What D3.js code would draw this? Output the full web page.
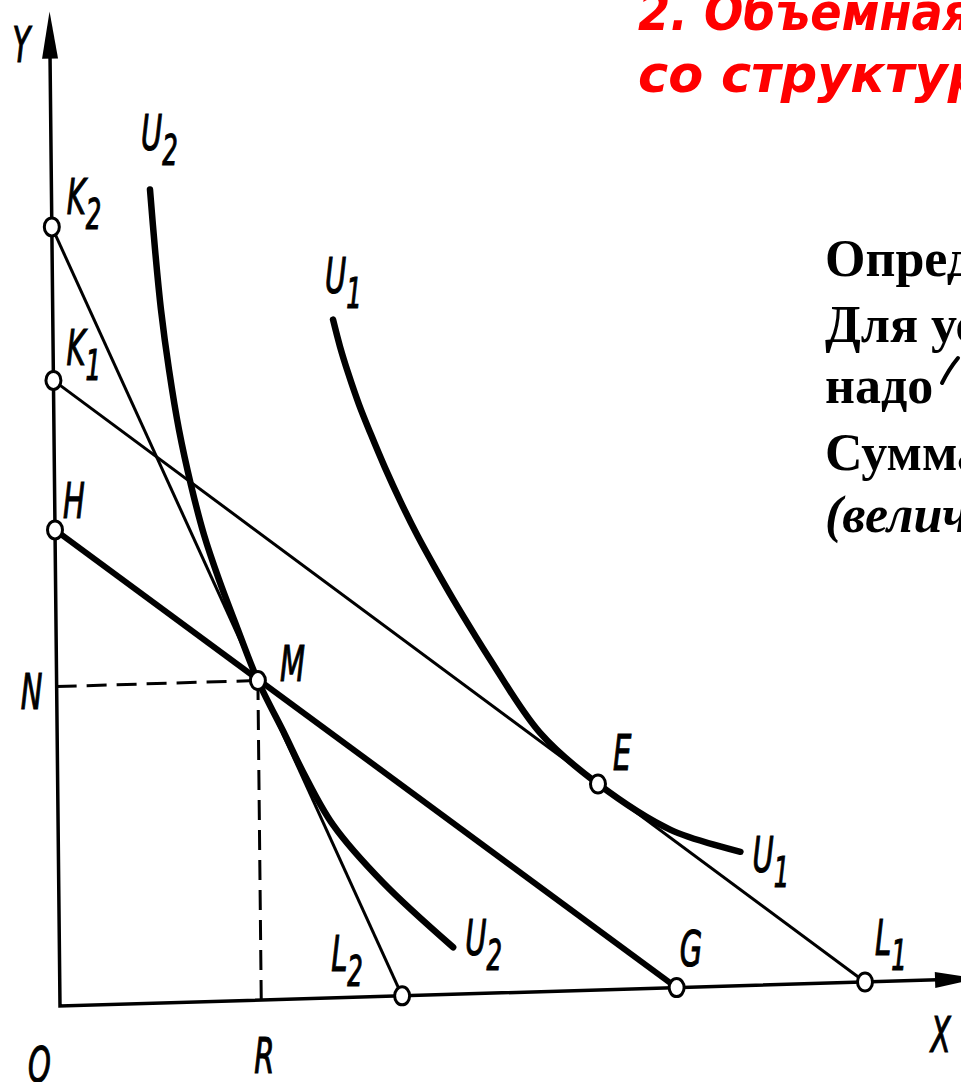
<!DOCTYPE html>
<html>
<head>
  <meta charset="utf-8">
  <meta name="viewport" content="width=device-width">
  <title>Эффект дохода и эффект замещения</title>
  <style>
    body { margin: 0; background: #fff; }
    svg { display: block; }
  </style>
</head>
<body>
<script src="https://cdnjs.cloudflare.com/ajax/libs/d3/7.8.5/d3.min.js"></script>

<div id="vis"></div>

<script>

// точки на осях (единицы осей)
var axisPoints = [
  {name: 'K2', x: 0,    y: 9.95},
  {name: 'K1', x: 0,    y: 7.99},
  {name: 'H',  x: 0,    y: 6.08},
  {name: 'L2', x: 4.25, y: 0},
  {name: 'G',  x: 7.66, y: 0},
  {name: 'L1', x: 10,   y: 0}
];

// точки касания
var tangentPoints = [
  {name: 'M', x: 2.5,  y: 4.08},
  {name: 'E', x: 6.71, y: 2.63}
];

// бюджетные линии
var budgetLines = [['K2', 'L2'], ['K1', 'L1'], ['H', 'G']];

// кривые безразличия
var curveU2 = [[1.224, 10.39], [1.279, 9.62], [1.345, 8.85], [1.437, 8.08], [1.553, 7.31],
  [1.695, 6.60], [1.850, 5.96], [2.031, 5.38], [2.236, 4.80], [2.5, 4.08], [2.830, 3.375],
  [3.049, 2.896], [3.415, 2.208], [4.03, 1.45], [4.89, 0.60]];
var curveU1 = [[3.48, 8.66], [3.564, 8.31], [3.660, 7.975], [3.793, 7.562], [3.938, 7.174],
  [4.107, 6.747], [4.302, 6.294], [4.508, 5.854], [4.716, 5.451], [4.947, 5.022],
  [5.191, 4.593], [5.375, 4.281], [5.998, 3.304], [6.71, 2.63], [7.60, 2.02], [8.47, 1.71]];

var axisMax = {x: 11.4, y: 12.7};

var titleLines = ['2. Объемная модель', 'со структурой'];
var textLines = ['Определим эффекты', 'Для устранения', 'надо', 'Суммарный', '(величина'];

var W = 961, H = 1082;
var svg = d3.select('div#vis').append('svg')
  .attr('width', W)
  .attr('height', H);

var x = d3.scaleLinear().domain([0, 10]).range([0, 805]);
var y = d3.scaleLinear().domain([0, 10]).range([0, 783]);

// оси на скане чуть наклонены
var ox = 60, oy = 1006, leanY = 0.0105, tiltX = 0.0298;
function px(p) { return ox + x(p[0]) - leanY * y(p[1]); }
function py(p) { return oy - tiltX * x(p[0]) - y(p[1]); }

var line = d3.line().x(px).y(py);
var smooth = d3.line().x(px).y(py).curve(d3.curveCatmullRom.alpha(0.5));

var pt = {};
axisPoints.concat(tangentPoints).forEach(function(d) { pt[d.name] = [d.x, d.y]; });

// оси
svg.append('path')
  .attr('d', line([[0, axisMax.y - 0.5], [0, 0], [axisMax.x - 0.4, 0]]))
  .attr('fill', 'none').attr('stroke', '#000').attr('stroke-width', 3.5);

function arrow(tip, back) {
  var a = [px(tip), py(tip)], b = [px(back), py(back)];
  var dx = a[0] - b[0], dy = a[1] - b[1], len = Math.sqrt(dx * dx + dy * dy);
  var nx = -dy / len * 8, ny = dx / len * 8;
  return 'M' + a + 'L' + [b[0] + nx, b[1] + ny] + 'L' + [b[0] - nx, b[1] - ny] + 'Z';
}
svg.append('path').attr('d', arrow([0, axisMax.y], [0, axisMax.y - 0.6]));
svg.append('path').attr('d', arrow([axisMax.x, 0], [axisMax.x - 0.53, 0]));

// пунктир от M
var M = pt.M;
svg.append('path')
  .attr('d', line([[0, M[1]], M]) + line([[M[0], 0], M]))
  .attr('fill', 'none').attr('stroke', '#000')
  .attr('stroke-width', 3).attr('stroke-dasharray', '20,10');

// бюджетные линии
svg.selectAll('path.budget').data(budgetLines).enter().append('path')
  .attr('class', 'budget')
  .attr('d', function(d) { return line([pt[d[0]], pt[d[1]]]); })
  .attr('fill', 'none').attr('stroke', '#000')
  .attr('stroke-width', function(d) { return d[0] === 'H' ? 6 : 3; });

// кривые безразличия
svg.selectAll('path.u').data([curveU2, curveU1]).enter().append('path')
  .attr('class', 'u')
  .attr('d', smooth)
  .attr('fill', 'none').attr('stroke', '#000')
  .attr('stroke-width', 6.5).attr('stroke-linecap', 'round');

// кружки
svg.selectAll('ellipse').data(axisPoints.concat(tangentPoints)).enter().append('ellipse')
  .attr('cx', function(d) { return px([d.x, d.y]); })
  .attr('cy', function(d) { return py([d.x, d.y]); })
  .attr('rx', 7.5).attr('ry', 9)
  .attr('fill', '#fff').attr('stroke', '#000').attr('stroke-width', 3);

// подписи
function label(name, lx, ly) {
  var g = svg.append('g').attr('transform', 'translate(' + lx + ',' + ly + ') scale(0.58,1)');
  var t = g.append('text')
    .attr('font-family', 'DejaVu Sans').attr('font-style', 'oblique')
    .attr('font-size', 50)
    .attr('stroke', '#000').attr('stroke-width', 1.2)
    .text(name.charAt(0));
  if (name.length > 1) t.append('tspan').attr('font-size', 42).attr('dy', 15).text(name.slice(1));
}

var offs = {K2: [15, -13], K1: [13, -15], H: [8, -12], L2: [-71, -25], G: [3, -22],
  L1: [10, -27], M: [22, 0], E: [15, -14]};
axisPoints.concat(tangentPoints).forEach(function(d) {
  var p = [d.x, d.y];
  label(d.name, px(p) + offs[d.name][0], py(p) + offs[d.name][1]);
});

var yTip = [0, axisMax.y], xTip = [axisMax.x, 0];
label('Y', px(yTip) - 37, py(yTip) + 50);
label('X', px(xTip) - 47, py(xTip) + 73);
label('O', ox - 32, oy + 76);
label('N', px([0, M[1]]) - 36, py([0, M[1]]) + 22);
label('R', px([M[0], 0]) - 7, py([M[0], 0]) + 73);

var u2a = curveU2[0], u2b = curveU2[curveU2.length - 1];
var u1a = curveU1[0], u1b = curveU1[curveU1.length - 1];
label('U2', px(u2a) - 9, py(u2a) - 40);
label('U1', px(u1a) - 8, py(u1a) - 27);
label('U1', px(u1b) + 12, py(u1b) + 20);
label('U2', px(u2b) + 12, py(u2b) + 8);

// заголовок
var titleScale = [0.89, 0.98];
titleLines.forEach(function(d, i) {
  svg.append('g')
    .attr('transform', 'translate(638,' + (30 + i * 62) + ') scale(' + titleScale[i] + ',1)')
    .append('text')
    .attr('fill', '#ff0000')
    .attr('font-family', 'DejaVu Sans').attr('font-weight', 'bold').attr('font-style', 'oblique')
    .attr('font-size', 52)
    .text(d);
});

// текст справа
var base = [276, 342, 403, 470, 532];
svg.selectAll('text.note').data(textLines).enter().append('text')
  .attr('class', 'note')
  .attr('x', 825)
  .attr('y', function(d, i) { return base[i]; })
  .attr('font-family', 'Liberation Serif').attr('font-weight', 'bold')
  .attr('font-style', function(d, i) { return i === 4 ? 'italic' : 'normal'; })
  .attr('font-size', 52)
  .text(function(d) { return d; });

// штрих после «надо»
svg.append('path')
  .attr('d', 'M942,' + (base[2] - 20) + 'Q949,' + (base[2] - 34) + ' 958,' + (base[2] - 45))
  .attr('fill', 'none').attr('stroke', '#000').attr('stroke-width', 4)
  .attr('stroke-linecap', 'round');

</script>

</body>
</html>
